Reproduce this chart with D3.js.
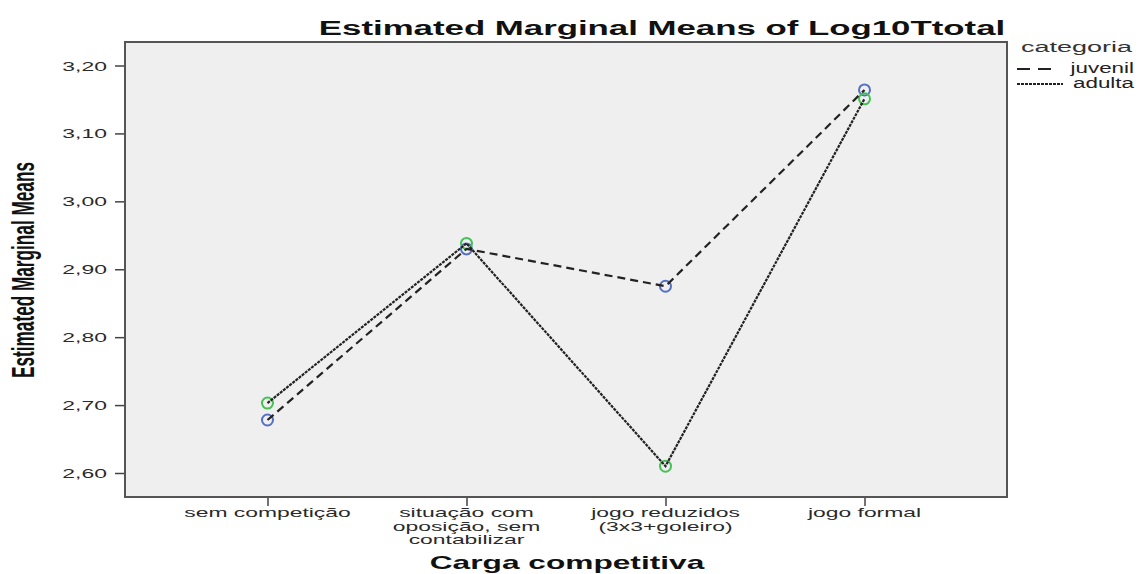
<!DOCTYPE html>
<html>
<head>
<meta charset="utf-8">
<script src="https://cdn.jsdelivr.net/npm/d3@7"></script>
<style>
  html, body { margin: 0; padding: 0; background: #fff; }
  svg { display: block; font-family: "Liberation Sans", Arial, sans-serif; }
</style>
</head>
<body>
<svg id="chart" width="1139" height="574"></svg>
<script>
// Categories on the x axis (multi-line labels split on "|")
const categories = [
  "sem competição",
  "situação com|oposição, sem|contabilizar",
  "jogo reduzidos|(3x3+goleiro)",
  "jogo formal"
];
// Estimated marginal means per series
const juvenil = [2.678, 2.930, 2.875, 3.164];
const adulta  = [2.703, 2.938, 2.610, 3.151];
const seriesNames = ["juvenil", "adulta"];
const yTicks = [2.60, 2.70, 2.80, 2.90, 3.00, 3.10, 3.20];

const title = "Estimated Marginal Means of Log10Ttotal";
const xTitle = "Carga competitiva";
const yTitle = "Estimated Marginal Means";
const legendTitle = "categoria";

const SX = 1.7; // horizontal glyph stretch used for all text

const svg = d3.select("#chart");
const plot = { left: 125, right: 1007, top: 42, bottom: 497 };

const x = d3.scalePoint()
  .domain(categories)
  .range([plot.left, plot.right])
  .padding(0.716);

const y = d3.scaleLinear()
  .domain([2.60, 3.20])
  .range([473, 65.5]);

// plot area
svg.append("rect")
  .attr("x", plot.left).attr("y", plot.top)
  .attr("width", plot.right - plot.left)
  .attr("height", plot.bottom - plot.top)
  .attr("fill", "#efefef")
  .attr("stroke", "#555")
  .attr("stroke-width", 2);

// helper: stretched text placed at (px,py)
function stretchedText(px, py, str, opts) {
  const g = svg.append("g")
    .attr("transform", `translate(${px},${py}) scale(${opts.sx || SX},1)`);
  g.append("text")
    .attr("text-anchor", opts.anchor || "middle")
    .attr("font-size", opts.size)
    .attr("font-weight", opts.weight || "normal")
    .attr("fill", opts.fill || "#222")
    .text(str);
  return g;
}

// y axis
const yAxis = d3.axisLeft(y)
  .tickValues(yTicks)
  .tickSize(9)
  .tickFormat(d => "");
const yg = svg.append("g")
  .attr("transform", `translate(${plot.left - 1},0)`)
  .call(yAxis);
yg.select(".domain").remove();
yg.selectAll(".tick line").attr("stroke", "#444").attr("stroke-width", 1.5);
yTicks.forEach(v => {
  stretchedText(plot.left - 18, y(v) + 5, d3.format(".2f")(v).replace(".", ","),
    { anchor: "end", size: 13.5, fill: "#2a2a2a" });
});

// x axis
const xAxis = d3.axisBottom(x).tickSize(8).tickFormat(d => "");
const xg = svg.append("g")
  .attr("transform", `translate(0,${plot.bottom + 1})`)
  .call(xAxis);
xg.select(".domain").remove();
xg.selectAll(".tick line").attr("stroke", "#444").attr("stroke-width", 1.5);
categories.forEach(c => {
  c.split("|").forEach((line, i) => {
    stretchedText(x(c), 517 + i * 13.5, line, { size: 13, fill: "#2a2a2a", sx: 1.76 });
  });
});

// titles
stretchedText(662, 35, title, { size: 20, weight: "bold", fill: "#111", sx: 1.74 });
stretchedText(567, 569, xTitle, { size: 18, weight: "bold", fill: "#111", sx: 1.76 });
svg.append("g")
  .attr("transform", `translate(34,270) scale(1.6,1) rotate(-90)`)
  .append("text")
  .attr("text-anchor", "middle")
  .attr("font-size", 20)
  .attr("font-weight", "bold")
  .attr("fill", "#111")
  .attr("textLength", 216)
  .attr("lengthAdjust", "spacingAndGlyphs")
  .text(yTitle);

// series
const series = [
  { name: seriesNames[0], values: juvenil, dash: "8,5", color: "#5470c6" },
  { name: seriesNames[1], values: adulta,  dash: "3,1", color: "#44c255" }
];
const line = d3.line()
  .x((d, i) => x(categories[i]))
  .y(d => y(d));

series.forEach(s => {
  svg.append("g").selectAll("circle")
    .data(s.values)
    .join("circle")
    .attr("cx", (d, i) => x(categories[i]))
    .attr("cy", d => y(d))
    .attr("r", 5.5)
    .attr("fill", "none")
    .attr("stroke", s.color)
    .attr("stroke-width", 2);
});
series.forEach(s => {
  svg.append("path")
    .datum(s.values)
    .attr("d", line)
    .attr("fill", "none")
    .attr("stroke", "#222")
    .attr("stroke-width", 2.2)
    .attr("stroke-dasharray", s.dash);
});

// legend
stretchedText(1132, 52, legendTitle, { anchor: "end", size: 15, fill: "#333", sx: 1.8 });
series.forEach((s, i) => {
  const ly = 73 + i * 15;
  svg.append("line")
    .attr("x1", 1017).attr("x2", i === 0 ? 1058 : 1063)
    .attr("y1", ly - 4).attr("y2", ly - 4)
    .attr("stroke", "#222")
    .attr("stroke-width", 1.8)
    .attr("stroke-dasharray", i === 0 ? "13,8" : "3,1");
  stretchedText(1134, ly, s.name, { anchor: "end", size: 14, fill: "#222", sx: 1.6 });
});
</script>
</body>
</html>
